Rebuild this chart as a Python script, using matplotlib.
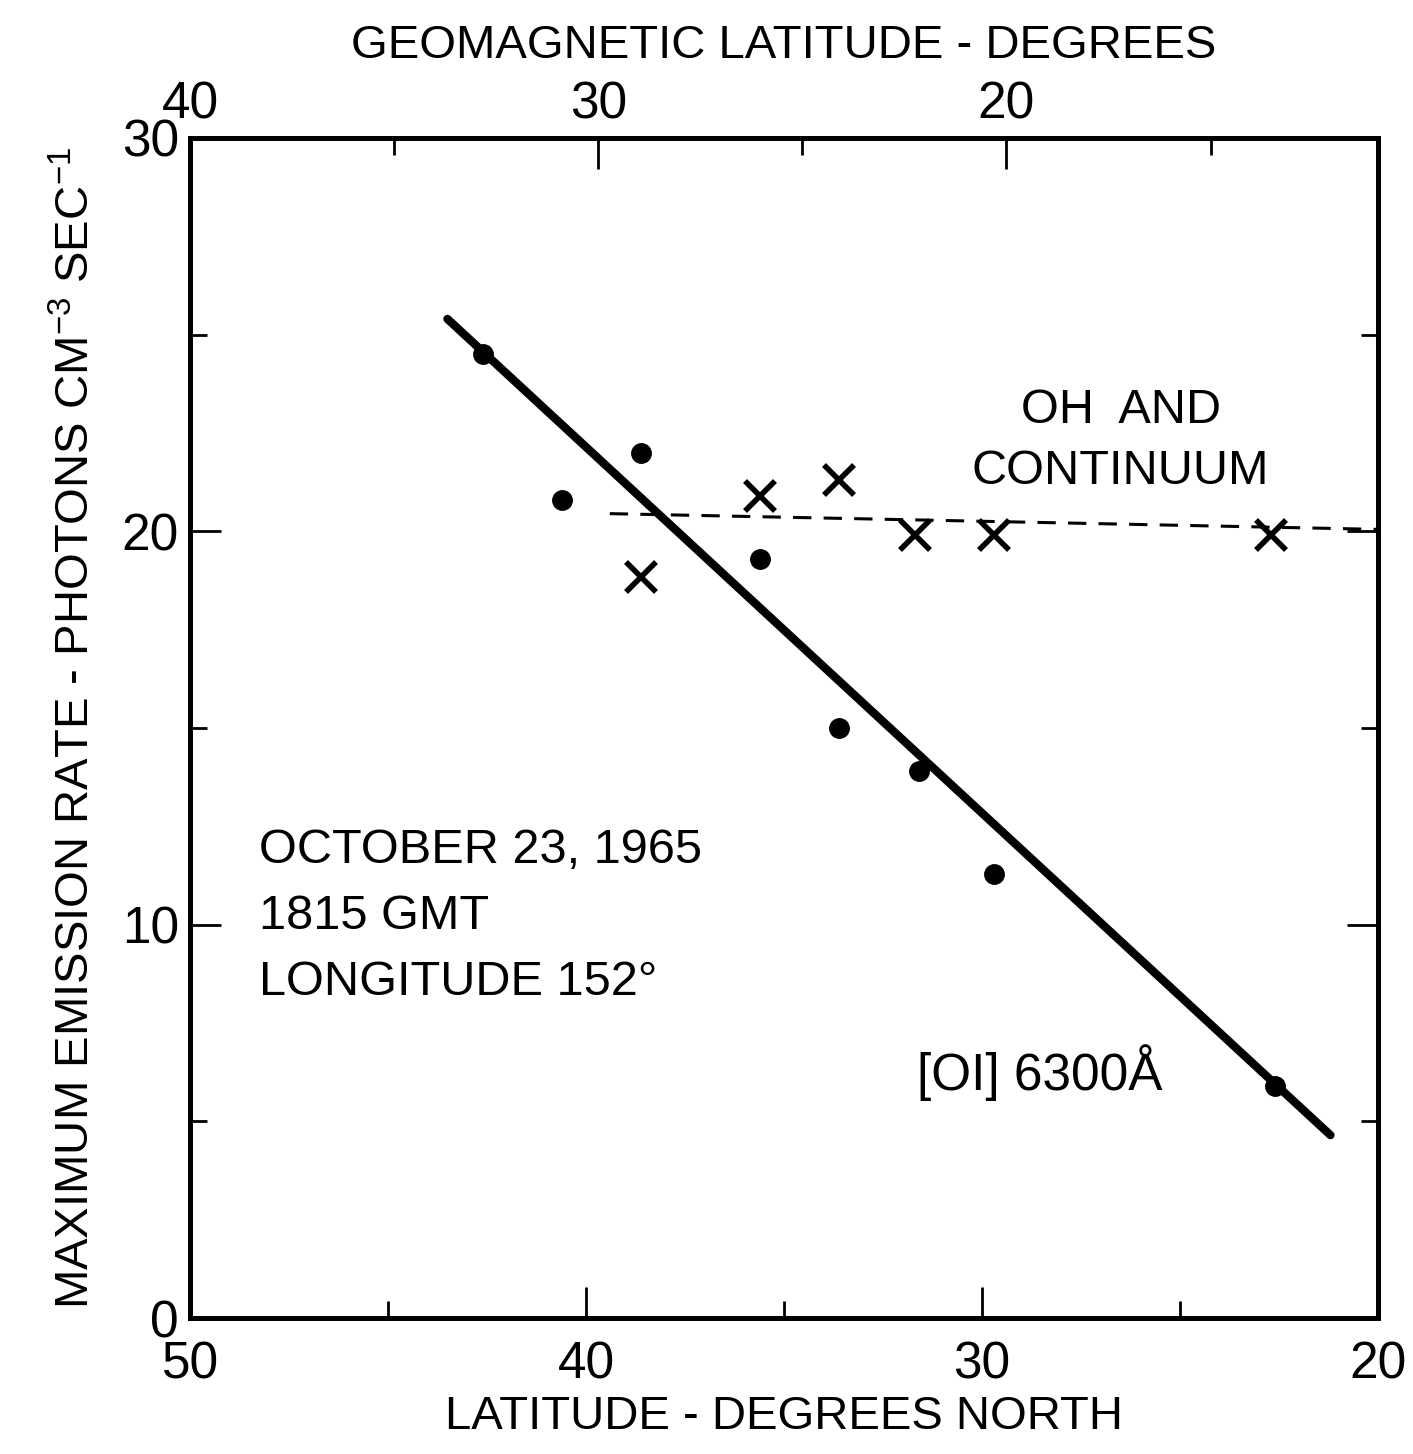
import matplotlib
matplotlib.use("Agg")
import matplotlib.pyplot as plt

# narrower sans than DejaVu, close to the original lettering
plt.rcParams["font.family"] = ["Liberation Sans", "DejaVu Sans"]
plt.rcParams["mathtext.default"] = "regular"

# [OI] 6300A maximum emission rate (dots)
oi_lat = [42.6, 40.6, 38.6, 35.6, 33.6, 31.6, 29.7, 22.6]
oi_rate = [24.5, 20.8, 22.0, 19.3, 15.0, 13.9, 11.3, 5.9]

# OH and continuum (crosses)
oh_lat = [38.6, 35.6, 33.6, 31.7, 29.7, 22.7]
oh_rate = [18.85, 20.9, 21.3, 19.9, 19.9, 19.9]

# fitted lines
fit_lat = [43.5, 21.2]
fit_rate = [25.4, 4.65]
oh_fit_lat = [39.4, 20.0]
oh_fit_rate = [20.45, 20.05]

# geomagnetic latitude at the left and right edges of the frame
geomag_left = 40.0
geomag_right = 10.9

fig = plt.figure(figsize=(14.13, 14.54), dpi=100)
ax = fig.add_axes([0.1345, 0.0935, 0.8407, 0.8116])

ax.plot(fit_lat, fit_rate, color="black", lw=6, solid_capstyle="round")
ax.plot(oh_fit_lat, oh_fit_rate, color="black", lw=2.2, dashes=(6, 4))
ax.plot(oi_lat, oi_rate, "o", color="black", ms=14, zorder=3)
ax.plot(oh_lat, oh_rate, "x", color="black", ms=21, mew=4, zorder=3)

ax.set_xlim(50, 20)
ax.set_ylim(0, 30)
ax.set_xticks([50, 40, 30, 20])
ax.set_xticks([45, 35, 25], minor=True)
ax.set_yticks([0, 10, 20, 30])
ax.set_yticks([5, 15, 25], minor=True)

for s in ax.spines.values():
    s.set_linewidth(3.5)

ax.tick_params(which="both", direction="in", top=False, right=True,
               labelsize=37, width=2)
ax.tick_params(which="major", length=22)
ax.tick_params(which="minor", length=12)
ax.tick_params(axis="x", pad=16)
ax.tick_params(axis="y", pad=8)

ax.set_xlabel("LATITUDE - DEGREES NORTH", fontsize=34, labelpad=4)
ax.set_ylabel("MAXIMUM EMISSION RATE - PHOTONS CM$^{-3}$ SEC$^{-1}$",
              fontsize=34, labelpad=16)

top = ax.twiny()
top.set_xlim(geomag_left, geomag_right)
top.set_xticks([40, 30, 20])
top.set_xticks([35, 25, 15], minor=True)
top.tick_params(which="both", direction="in", labelsize=37, width=2, pad=6)
top.tick_params(which="major", length=22)
top.tick_params(which="minor", length=12)
top.set_xlabel("GEOMAGNETIC LATITUDE - DEGREES", fontsize=34, labelpad=16)
for s in top.spines.values():
    s.set_linewidth(3.5)

ax.text(48.25, 12.45, "OCTOBER 23, 1965\n1815 GMT\nLONGITUDE 152\u00b0",
        fontsize=35, va="top", ha="left", linespacing=1.6)
ax.text(26.5, 22.3, "OH  AND\nCONTINUUM", fontsize=35,
        ha="center", va="center", linespacing=1.45)
ax.text(31.65, 6.25, "[OI] 6300\u00c5", fontsize=37, ha="left", va="center")

fig.savefig("out.png", dpi=100)
